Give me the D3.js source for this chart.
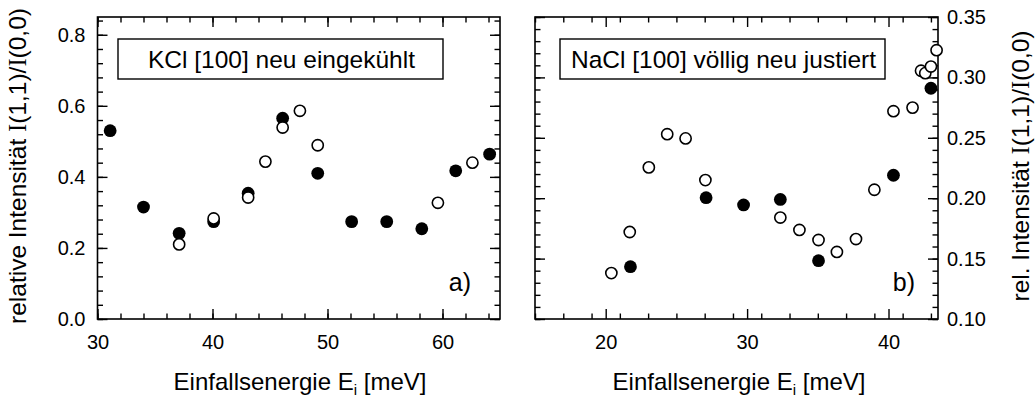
<!DOCTYPE html>
<html>
<head>
<meta charset="utf-8">
<script src="https://d3js.org/d3.v7.min.js"></script>
<style>
  body { margin: 0; padding: 0; background: #fff; }
  text { font-family: "Liberation Sans", Arial, sans-serif; fill: #000; }
</style>
</head>
<body>
<svg id="chart" width="1035" height="400"></svg>
<script>
// ---- data: KCl panel (a) ----
const kclFilledE = [31.1, 34.0, 37.1, 40.1, 43.1, 46.1, 49.15, 52.1, 55.15, 58.2, 61.15, 64.1];
const kclFilledI = [0.53, 0.315, 0.241, 0.274, 0.354, 0.565, 0.41, 0.274, 0.274, 0.254, 0.417, 0.464];
const kclOpenE = [37.1, 40.1, 43.1, 44.6, 46.1, 47.6, 49.15, 59.6, 62.6];
const kclOpenI = [0.21, 0.283, 0.342, 0.443, 0.539, 0.586, 0.489, 0.327, 0.44];

// ---- data: NaCl panel (b) ----
const naclFilledE = [21.75, 27.1, 29.75, 32.35, 35.05, 40.35, 43.0];
const naclFilledI = [0.1433, 0.2004, 0.1944, 0.199, 0.1483, 0.219, 0.291];
const naclOpenE = [20.4, 21.7, 23.05, 24.35, 25.65, 27.05, 32.35, 33.7, 35.05, 36.35, 37.7, 39.0, 40.35, 41.7, 42.3, 42.6, 43.0, 43.4];
const naclOpenI = [0.138, 0.172, 0.2255, 0.253, 0.2495, 0.215, 0.184, 0.1737, 0.1654, 0.1555, 0.1662, 0.207, 0.272, 0.275, 0.3055, 0.3035, 0.309, 0.3225];

// ---- tick labels ----
const kclXTicks = [30, 40, 50, 60];
const kclYTicks = [0.0, 0.2, 0.4, 0.6, 0.8];
const naclXTicks = [20, 30, 40];
const naclYTicks = [0.10, 0.15, 0.20, 0.25, 0.30, 0.35];

const svg = d3.select("#chart");
const yTop = 17, yBottom = 319;
const FONT = "Liberation Sans, Arial, sans-serif";

function drawPanel(opt) {
    const x = d3.scaleLinear().domain(opt.xDomain).range([opt.left, opt.right]);
    const y = d3.scaleLinear().domain(opt.yDomain).range([yBottom, yTop]);
    const g = svg.append("g");

    const xMinor = d3.range(opt.xDomain[0], opt.xDomain[1] + 1e-9, opt.xMinorStep);
    const yMinor = d3.range(opt.yDomain[0], opt.yDomain[1] + 1e-9, opt.yMinorStep);

    function axis(gen, vals, size, fmt, tr) {
        const a = g.append("g").attr("transform", tr)
            .call(gen.tickValues(vals).tickSize(size).tickPadding(9).tickFormat(fmt));
        a.select(".domain").remove();
        a.selectAll("line").attr("stroke", "#000").attr("stroke-width", 1.4);
        a.attr("font-family", FONT).attr("font-size", 20);
        return a;
    }
    const none = () => "";

    // minor ticks on all four sides
    axis(d3.axisBottom(x), xMinor, -5.5, none, `translate(0,${yBottom})`);
    axis(d3.axisTop(x), xMinor, -5.5, none, `translate(0,${yTop})`);
    axis(d3.axisLeft(y), yMinor, -5.5, none, `translate(${opt.left},0)`);
    axis(d3.axisRight(y), yMinor, -5.5, none, `translate(${opt.right},0)`);

    // major ticks
    const xb = axis(d3.axisBottom(x), opt.xTicks, -10, d3.format("d"), `translate(0,${yBottom})`);
    xb.selectAll("text").attr("dy", "0.71em").attr("y", 16);
    axis(d3.axisTop(x), opt.xTicks, -10, none, `translate(0,${yTop})`);
    axis(d3.axisLeft(y), opt.yTicks, -10, opt.yLabelSide === "left" ? d3.format(opt.yFmt) : none, `translate(${opt.left},0)`)
        .selectAll("text").attr("x", -12);
    axis(d3.axisRight(y), opt.yTicks, -10, opt.yLabelSide === "right" ? d3.format(opt.yFmt) : none, `translate(${opt.right},0)`)
        .selectAll("text").attr("x", 9);

    // frame
    g.append("rect")
        .attr("x", opt.left).attr("y", yTop)
        .attr("width", opt.right - opt.left).attr("height", yBottom - yTop)
        .attr("fill", "none").attr("stroke", "#000").attr("stroke-width", 1.6);

    // legend box
    g.append("rect")
        .attr("x", opt.box[0]).attr("y", 39)
        .attr("width", opt.box[1] - opt.box[0]).attr("height", 40)
        .attr("fill", "#fff").attr("stroke", "#000").attr("stroke-width", 1.4);
    g.append("text")
        .attr("x", (opt.box[0] + opt.box[1]) / 2 + 1).attr("y", 68)
        .attr("text-anchor", "middle").attr("font-size", 24.5)
        .text(opt.title);

    // panel letter
    g.append("text")
        .attr("x", opt.letterX).attr("y", 291)
        .attr("text-anchor", "end").attr("font-size", 25)
        .text(opt.letter);

    // filled points first, open ones on top
    g.selectAll("circle.filled").data(d3.zip(opt.fE, opt.fI))
        .join("circle").attr("class", "filled")
        .attr("cx", d => x(d[0])).attr("cy", d => y(d[1]))
        .attr("r", 6.4).attr("fill", "#000");
    g.selectAll("circle.open").data(d3.zip(opt.oE, opt.oI))
        .join("circle").attr("class", "open")
        .attr("cx", d => x(d[0])).attr("cy", d => y(d[1]))
        .attr("r", 5.6).attr("fill", "#fff")
        .attr("stroke", "#000").attr("stroke-width", 1.6);

    // x label with subscript
    const xl = g.append("text")
        .attr("x", opt.xLabelX).attr("y", 390)
        .attr("text-anchor", "middle").attr("font-size", 24);
    xl.append("tspan").text("Einfallsenergie E");
    xl.append("tspan").attr("font-size", 15).attr("dy", 5).text("i");
    xl.append("tspan").attr("dy", -5).text(" [meV]");
}

function yTitle(xPos, prefix) {
    const t = svg.append("text")
        .attr("transform", `translate(${xPos},166) rotate(-90)`)
        .attr("text-anchor", "middle").attr("font-size", 24.5);
    t.append("tspan").text(prefix + " Intensität ");
    t.append("tspan").attr("font-family", "Liberation Serif, serif").text("I");
    t.append("tspan").text("(1,1)/");
    t.append("tspan").attr("font-family", "Liberation Serif, serif").text("I");
    t.append("tspan").text("(0,0)");
}

drawPanel({
    left: 97.5, right: 500,
    xDomain: [30, 65], yDomain: [0, 0.85],
    xMinorStep: 2, yMinorStep: 0.04,
    xTicks: kclXTicks, yTicks: kclYTicks, yFmt: ".1f", yLabelSide: "left",
    fE: kclFilledE, fI: kclFilledI, oE: kclOpenE, oI: kclOpenI,
    box: [118, 443], title: "KCl [100] neu eingekühlt",
    letter: "a)", letterX: 471, xLabelX: 300
});

drawPanel({
    left: 535, right: 938,
    xDomain: [15, 43.5], yDomain: [0.10, 0.35],
    xMinorStep: 2, yMinorStep: 0.01,
    xTicks: naclXTicks, yTicks: naclYTicks, yFmt: ".2f", yLabelSide: "right",
    fE: naclFilledE, fI: naclFilledI, oE: naclOpenE, oI: naclOpenI,
    box: [560, 885], title: "NaCl [100] völlig neu justiert",
    letter: "b)", letterX: 915, xLabelX: 739
});

yTitle(26, "relative");
yTitle(1029, "rel.");
</script>
</body>
</html>
